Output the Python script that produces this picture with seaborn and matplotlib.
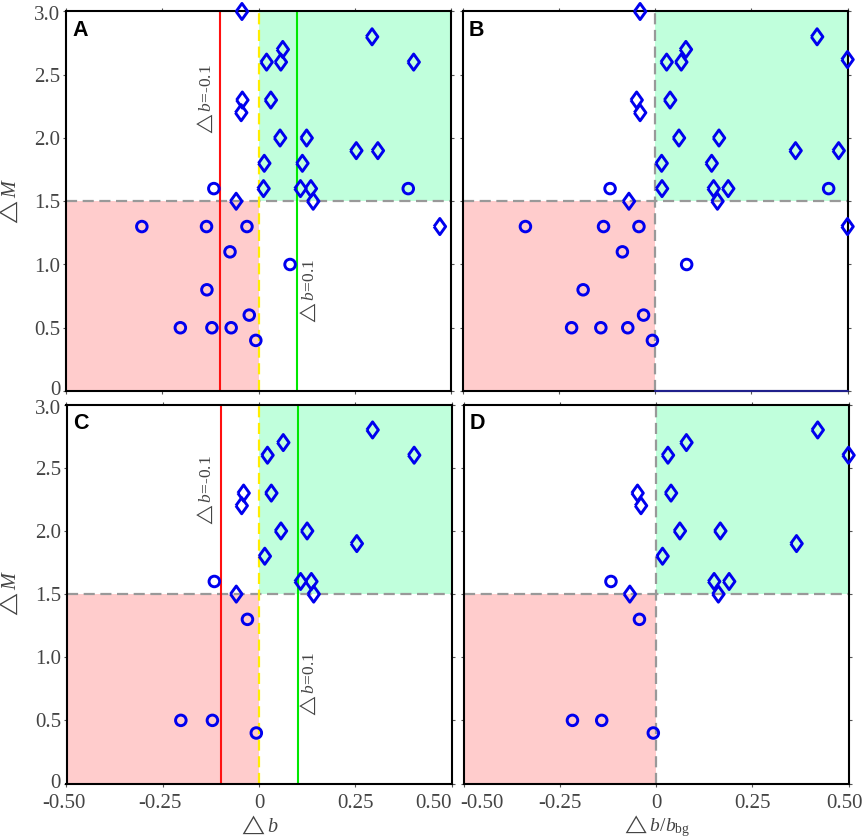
import pandas as pd
import matplotlib
matplotlib.use('Agg')
import matplotlib.pyplot as plt
from matplotlib.transforms import ScaledTranslation
import seaborn as sns

sns.set_theme(style='ticks')
plt.rcParams['font.family'] = ['Liberation Serif', 'DejaVu Sans']
plt.rcParams['mathtext.fontset'] = 'custom'
plt.rcParams['mathtext.rm'] = 'Liberation Serif'
plt.rcParams['mathtext.it'] = 'Liberation Serif:italic'

# valeurs
a_d_x = [-0.043, 0.295, 0.063, 0.021, 0.058, 0.403, -0.042, 0.032, -0.045, 0.056, 0.125, 0.254, 0.31, 0.015, 0.114, 0.013, 0.109, 0.136, -0.058, 0.142, 0.471]
a_d_y = [3.0, 2.8, 2.7, 2.6, 2.6, 2.6, 2.3, 2.3, 2.2, 2.0, 2.0, 1.9, 1.9, 1.8, 1.8, 1.6, 1.6, 1.6, 1.5, 1.5, 1.3]
a_c_x = [-0.116, 0.389, -0.303, -0.135, -0.03, -0.074, 0.082, -0.134, -0.024, -0.203, -0.121, -0.071, -0.007]
a_c_y = [1.6, 1.6, 1.3, 1.3, 1.3, 1.1, 1.0, 0.8, 0.6, 0.5, 0.5, 0.5, 0.4]

b_d_x = [-0.039, 0.421, 0.08, 0.03, 0.068, 0.5, -0.048, 0.039, -0.039, 0.062, 0.166, 0.365, 0.477, 0.017, 0.147, 0.018, 0.152, 0.19, -0.068, 0.162, 0.5]
b_d_y = [3.0, 2.8, 2.7, 2.6, 2.6, 2.62, 2.3, 2.3, 2.2, 2.0, 2.0, 1.9, 1.9, 1.8, 1.8, 1.6, 1.6, 1.6, 1.5, 1.5, 1.3]
b_c_x = [-0.117, 0.451, -0.337, -0.134, -0.042, -0.085, 0.082, -0.187, -0.03, -0.217, -0.141, -0.071, -0.007]
b_c_y = [1.6, 1.6, 1.3, 1.3, 1.3, 1.1, 1.0, 0.8, 0.6, 0.5, 0.5, 0.5, 0.4]

c_d_x = [0.295, 0.063, 0.022, 0.403, -0.04, 0.032, -0.045, 0.057, 0.125, 0.254, 0.015, 0.108, 0.136, -0.059, 0.142]
c_d_y = [2.8, 2.7, 2.6, 2.6, 2.3, 2.3, 2.2, 2.0, 2.0, 1.9, 1.8, 1.6, 1.6, 1.5, 1.5]
c_c_x = [-0.116, -0.03, -0.203, -0.121, -0.007]
c_c_y = [1.6, 1.3, 0.5, 0.5, 0.4]

d_d_x = [0.42, 0.079, 0.031, 0.5, -0.048, 0.039, -0.039, 0.062, 0.167, 0.365, 0.017, 0.151, 0.19, -0.068, 0.162]
d_d_y = [2.8, 2.7, 2.6, 2.6, 2.3, 2.3, 2.2, 2.0, 2.0, 1.9, 1.8, 1.6, 1.6, 1.5, 1.5]
d_c_x = [-0.117, -0.043, -0.217, -0.141, -0.007]
d_c_y = [1.6, 1.3, 0.5, 0.5, 0.4]

x_ticks = [-0.5, -0.25, 0, 0.25, 0.5]
x_labels = ['-0.50', '-0.25', '0', '0.25', '0.50']
y_ticks = [0, 0.5, 1.0, 1.5, 2.0, 2.5, 3.0]
y_labels = ['0', '0.5', '1.0', '1.5', '2.0', '2.5', '3.0']

BLUE = '#0000EE'
TXT = '#444444'
W, H = 865, 838
# losange plus large que le 'd' de matplotlib
DIAMOND = [(-0.72, 0), (0, 1), (0.72, 0), (0, -1), (-0.72, 0)]


def make_ax(fig, x0, x1, y0, y1):
    # positions en pixels de l'image
    return fig.add_axes([x0 / W, 1 - y1 / H, (x1 - x0) / W, (y1 - y0) / H])


def shift(label, fig, dx_px, dy_px):
    label.set_transform(label.get_transform() + ScaledTranslation(dx_px / 100, dy_px / 100, fig.dpi_scale_trans))


def panel(ax, letter, dx, dy, cx, cy, thresholds):
    ax.axvspan(-0.5, 0, ymin=0, ymax=0.5, color='#FFCCCC', lw=0, zorder=0)
    ax.axvspan(0, 0.5, ymin=0.5, ymax=1, color='#C0FFDC', lw=0, zorder=0)
    ax.axhline(1.5, color='#999999', lw=1.6, dashes=(5, 2.5), zorder=2)
    if thresholds:
        ax.axvline(-0.1, color='#FF1010', lw=1.5, zorder=2)
        ax.axvline(0.1, color='#00E800', lw=1.5, zorder=2)
        ax.axvline(0, color='#FFEE00', lw=1.6, dashes=(5, 2.5), zorder=2)
    else:
        ax.axvline(0, color='#999999', lw=1.6, dashes=(5, 2.5), zorder=2)

    sns.scatterplot(x=dx, y=dy, marker=DIAMOND, s=135, facecolors='none', edgecolor=BLUE,
                    linewidth=2.1, clip_on=False, zorder=5, ax=ax)
    sns.scatterplot(x=cx, y=cy, marker='o', s=58, facecolors='none', edgecolor=BLUE,
                    linewidth=2.1, clip_on=False, zorder=5, ax=ax)

    ax.set_xlim(-0.5, 0.5)
    ax.set_ylim(0, 3)
    ax.set_xticks(x_ticks)
    ax.set_yticks(y_ticks)
    ax.tick_params(top=True, right=True, direction='out', length=2.5, width=0.8, color='#555555')
    for s in ax.spines.values():
        s.set_linewidth(1.5)
        s.set_color('black')
        s.set_zorder(4)
    ax.text(0.016, 0.978, letter, transform=ax.transAxes, family='Liberation Sans',
            fontweight='bold', fontsize=15.5, color='black', va='top', ha='left', zorder=6)


fig = plt.figure(figsize=(8.65, 8.38), dpi=100)
ax_a = make_ax(fig, 66, 451, 11.5, 391)
ax_b = make_ax(fig, 462.7, 847.5, 11.5, 391)
ax_c = make_ax(fig, 66.5, 451.5, 404.7, 783.5)
ax_d = make_ax(fig, 463.5, 848.5, 404.7, 783.5)

panel(ax_a, 'A', a_d_x, a_d_y, a_c_x, a_c_y, True)
panel(ax_b, 'B', b_d_x, b_d_y, b_c_x, b_c_y, False)
panel(ax_c, 'C', c_d_x, c_d_y, c_c_x, c_c_y, True)
panel(ax_d, 'D', d_d_x, d_d_y, d_c_x, d_c_y, False)

# trait bleu en bas du panneau B
ax_b.plot([0, 0.5], [0, 0], color='#20208C', lw=1.5, clip_on=False, zorder=5)

for ax in (ax_a, ax_c):
    ax.set_yticklabels(y_labels, fontsize=15, color=TXT)
    ax.tick_params(axis='y', pad=1.5)
    ax.set_ylabel(r'$\triangle\mathit{M}$', fontsize=14.5, color=TXT)
    ax.yaxis.set_label_coords(-0.118, 0.5)
    # les '3.0' descendent un peu sous le haut de l'axe
    shift(ax.get_yticklabels()[-1], fig, 0, -2)
    shift(ax.get_yticklabels()[0], fig, 0, 3)

for ax in (ax_b, ax_d):
    ax.set_yticklabels([])
for ax in (ax_a, ax_b):
    ax.set_xticklabels([])
for ax in (ax_c, ax_d):
    ax.set_xticklabels(x_labels, fontsize=15, color=TXT)
    ax.tick_params(axis='x', pad=5)

# évite le chevauchement entre C et D
ax_c.get_xticklabels()[-1].set_ha('right')
ax_d.get_xticklabels()[0].set_ha('left')
shift(ax_d.get_xticklabels()[0], fig, -3, 0)
shift(ax_d.get_xticklabels()[-1], fig, -4, 0)
shift(ax_c.get_xticklabels()[0], fig, -3, 0)
shift(ax_c.get_xticklabels()[1], fig, -3, 0)

ax_c.set_xlabel(r'$\triangle\mathit{b}$', fontsize=14.5, color=TXT, labelpad=1)
ax_d.set_xlabel(r'$\triangle\mathit{b}/\mathit{b}_{\mathrm{bg}}$', fontsize=14, color=TXT, labelpad=0)

# annotations des seuils
ax_a.text(-0.139, 2.3, r'$\triangle\mathit{b}$=-0.1', rotation=90, fontsize=12.5, color=TXT, ha='center', va='center')
ax_a.text(0.129, 0.78, r'$\triangle\mathit{b}$=0.1', rotation=90, fontsize=12.5, color=TXT, ha='center', va='center')
ax_c.text(-0.139, 2.32, r'$\triangle\mathit{b}$=-0.1', rotation=90, fontsize=12.5, color=TXT, ha='center', va='center')
ax_c.text(0.129, 0.78, r'$\triangle\mathit{b}$=0.1', rotation=90, fontsize=12.5, color=TXT, ha='center', va='center')

fig.savefig('out.png', dpi=100)
